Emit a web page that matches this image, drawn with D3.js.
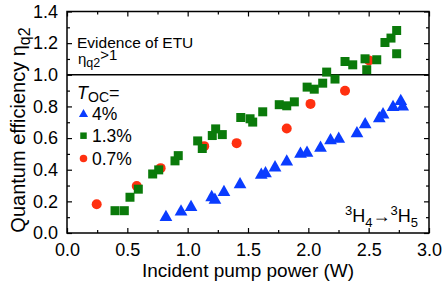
<!DOCTYPE html>
<html>
<head>
<meta charset="utf-8">
<script src="https://cdn.jsdelivr.net/npm/d3@7"></script>
<style>
  body { margin: 0; background: #fff; }
  svg text { font-family: "Liberation Sans", Arial, sans-serif; fill: #000; }
</style>
</head>
<body>
<div id="chart"></div>
<script>
// Chart size and margins
const width = 442
const height = 285
const margin = { top: 11.5, right: 13, bottom: 52, left: 67 }
const graphWidth = width - margin.left - margin.right
const graphHeight = height - margin.top - margin.bottom

// Data: incident pump power (W) vs quantum efficiency
const series = ['4%', '1.3%', '0.7%']

const power4 = [0.82, 0.945, 1.028, 1.199, 1.226, 1.301, 1.434, 1.61, 1.645, 1.724, 1.821, 1.935, 1.989,
    2.101, 2.184, 2.252, 2.403, 2.471, 2.588, 2.619, 2.702, 2.766, 2.782]
const eff4 = [0.111, 0.146, 0.175, 0.237, 0.22, 0.269, 0.318, 0.378, 0.388, 0.425, 0.462, 0.511, 0.518,
    0.549, 0.597, 0.606, 0.641, 0.698, 0.736, 0.76, 0.807, 0.845, 0.81]

const power13 = [0.398, 0.475, 0.522, 0.591, 0.71, 0.76, 0.895, 0.922, 1.083, 1.121, 1.204, 1.232, 1.287,
    1.44, 1.517, 1.539, 1.622, 1.759, 1.821, 1.884, 1.99, 2.049, 2.119, 2.152, 2.221, 2.304, 2.368,
    2.47, 2.484, 2.567, 2.635, 2.685, 2.732, 2.732]
const eff13 = [0.141, 0.141, 0.226, 0.277, 0.373, 0.399, 0.456, 0.489, 0.582, 0.534, 0.616, 0.658, 0.622,
    0.73, 0.722, 0.701, 0.766, 0.811, 0.804, 0.829, 0.922, 0.909, 0.947, 1.017, 0.973, 1.084, 1.063,
    1.101, 1.032, 1.095, 1.204, 1.232, 1.28, 1.133]

const power07 = [0.246, 0.578, 0.776, 1.137, 1.406, 1.821, 2.018, 2.304, 2.503]
const eff07 = [0.182, 0.297, 0.41, 0.549, 0.568, 0.66, 0.816, 0.899, 1.091]

const xTicks = [0, 0.5, 1.0, 1.5, 2.0, 2.5, 3.0]
const yTicks = [0, 0.2, 0.4, 0.6, 0.8, 1.0, 1.2, 1.4]
const etuLevel = 1.0

const colors = { '4%': '#0a3cff', '1.3%': '#0a7a0a', '0.7%': '#ff3010' }

const svg = d3.select('#chart')
    .append('svg')
    .attr('width', width)
    .attr('height', height)

const g = svg.append('g')
    .attr('transform', `translate(${margin.left}, ${margin.top})`)

// Scales
const x = d3.scaleLinear().domain([0, 3]).range([0, graphWidth])
const y = d3.scaleLinear().domain([0, 1.4]).range([graphHeight, 0])

// Axes - ticks point inward on all four sides
const minorX = d3.range(0, 3.001, 0.25).filter(v => Math.abs(v * 2 - Math.round(v * 2)) > 1e-6)
const minorY = d3.range(0, 1.401, 0.1).filter(v => Math.abs(v * 5 - Math.round(v * 5)) > 1e-6)

function styleAxis(sel) {
    sel.select('.domain').remove()
    sel.selectAll('line').attr('stroke', '#000').attr('stroke-width', 1.2)
    sel.selectAll('text').style('font-size', '18px')
}

const xAxisGroup = g.append('g').attr('transform', `translate(0, ${graphHeight})`)
    .call(d3.axisBottom(x).tickValues(xTicks).tickFormat(d3.format('.1f')).tickSizeInner(-5).tickSizeOuter(0).tickPadding(10))
xAxisGroup.call(styleAxis)
g.append('g').attr('transform', `translate(0, ${graphHeight})`)
    .call(d3.axisBottom(x).tickValues(minorX).tickFormat('').tickSizeInner(-3).tickSizeOuter(0))
    .call(styleAxis)

g.append('g')
    .call(d3.axisTop(x).tickValues(xTicks).tickFormat('').tickSizeInner(-5).tickSizeOuter(0))
    .call(styleAxis)
g.append('g')
    .call(d3.axisTop(x).tickValues(minorX).tickFormat('').tickSizeInner(-3).tickSizeOuter(0))
    .call(styleAxis)

const yAxisGroup = g.append('g')
    .call(d3.axisLeft(y).tickValues(yTicks).tickFormat(d3.format('.1f')).tickSizeInner(-5).tickSizeOuter(0).tickPadding(9))
yAxisGroup.call(styleAxis)
g.append('g')
    .call(d3.axisLeft(y).tickValues(minorY).tickFormat('').tickSizeInner(-3).tickSizeOuter(0))
    .call(styleAxis)

g.append('g').attr('transform', `translate(${graphWidth}, 0)`)
    .call(d3.axisRight(y).tickValues(yTicks).tickFormat('').tickSizeInner(-5).tickSizeOuter(0))
    .call(styleAxis)
g.append('g').attr('transform', `translate(${graphWidth}, 0)`)
    .call(d3.axisRight(y).tickValues(minorY).tickFormat('').tickSizeInner(-3).tickSizeOuter(0))
    .call(styleAxis)

// Frame
g.append('rect')
    .attr('width', graphWidth)
    .attr('height', graphHeight)
    .attr('fill', 'none')
    .attr('stroke', '#000')
    .attr('stroke-width', 1.5)

// Threshold line at eta = 1
g.append('line')
    .attr('x1', 0).attr('x2', graphWidth)
    .attr('y1', y(etuLevel)).attr('y2', y(etuLevel))
    .attr('stroke', '#000')
    .attr('stroke-width', 1.5)

// Marker paths (centred on their bounding box)
function markerPath(kind, s) {
    const p = d3.path()
    if (kind === '4%') {
        const w = s * 1.3, h = s * 1.15
        p.moveTo(0, -h / 2); p.lineTo(w / 2, h / 2); p.lineTo(-w / 2, h / 2); p.closePath()
    } else if (kind === '1.3%') {
        p.rect(-s / 2, -s / 2, s, s)
    } else {
        p.arc(0, 0, s / 2, 0, 2 * Math.PI)
    }
    return p.toString()
}

const points = [
    ...power07.map((d, i) => ({ s: '0.7%', x: d, y: eff07[i] })),
    ...power13.map((d, i) => ({ s: '1.3%', x: d, y: eff13[i] })),
    ...power4.map((d, i) => ({ s: '4%', x: d, y: eff4[i] }))
]
const markerSize = { '4%': 9.8, '1.3%': 9, '0.7%': 10 }

g.append('g').selectAll('path')
    .data(points)
    .enter()
    .append('path')
    .attr('d', d => markerPath(d.s, markerSize[d.s]))
    .attr('transform', d => `translate(${x(d.x)}, ${y(d.y)})`)
    .attr('fill', d => colors[d.s])

// Annotation: evidence of ETU
const note = g.append('text').attr('x', 10).attr('y', 36.5).style('font-size', '15.5px')
note.text('Evidence of ETU')
const note2 = g.append('text').attr('x', 11).attr('y', 52.5).style('font-size', '15px')
note2.append('tspan').text('η')
note2.append('tspan').attr('dy', 2.5).style('font-size', '12.5px').text('q2')
note2.append('tspan').attr('dy', -6.5).text('>1')

// Legend
const legend = g.append('g').attr('transform', 'translate(10, 0)')
const lt = legend.append('text').attr('x', 0).attr('y', 87).style('font-size', '18px')
lt.append('tspan').style('font-style', 'italic').text('T')
lt.append('tspan').attr('dy', 3).style('font-size', '14px').text('OC')
lt.append('tspan').attr('dy', -3).text('=')

const legendSize = { '4%': 7, '1.3%': 6.5, '0.7%': 7.5 }
series.forEach((s, i) => {
    const cy = 101.5 + i * 22.7
    legend.append('path')
        .attr('d', markerPath(s, legendSize[s]))
        .attr('transform', `translate(6.5, ${cy})`)
        .attr('fill', colors[s])
    legend.append('text')
        .attr('x', 15)
        .attr('y', cy + 6.5)
        .style('font-size', '17.5px')
        .text(s)
})

// Transition label
const tr = g.append('text').attr('text-anchor', 'end').attr('x', graphWidth - 11).attr('y', 210).style('font-size', '18px')
tr.append('tspan').attr('dy', -7).style('font-size', '13px').text('3')
tr.append('tspan').attr('dy', 7).text('H')
tr.append('tspan').attr('dy', 5).style('font-size', '13px').text('4')
tr.append('tspan').attr('dy', -5).text('→')
tr.append('tspan').attr('dy', -7).style('font-size', '13px').text('3')
tr.append('tspan').attr('dy', 7).text('H')
tr.append('tspan').attr('dy', 5).style('font-size', '13px').text('5')

// Axis titles
svg.append('text')
    .attr('x', margin.left + graphWidth / 2)
    .attr('y', 277)
    .attr('text-anchor', 'middle')
    .style('font-size', '19px')
    .text('Incident pump power (W)')

const yTitle = svg.append('text')
    .attr('transform', `translate(25, 130) rotate(-90)`)
    .attr('text-anchor', 'middle')
    .style('font-size', '20px')
yTitle.append('tspan').text('Quantum efficiency η')
yTitle.append('tspan').attr('dy', 5).style('font-size', '16px').text('q2')
</script>
</body>
</html>
